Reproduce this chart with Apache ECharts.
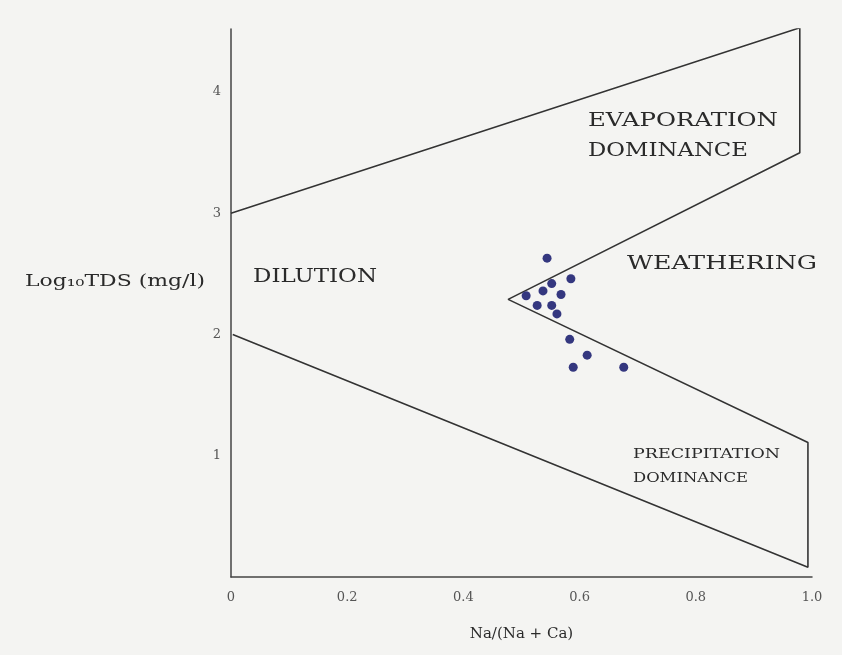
<!DOCTYPE html>
<html><head><meta charset="utf-8">
<script src="https://cdn.jsdelivr.net/npm/echarts@6/dist/echarts.min.js"></script>
<style>html,body{margin:0;padding:0;background:#f4f4f2}#c{width:842px;height:655px}</style>
</head><body><div id="c"></div>
<script>
// Gibbs diagram boundary (Na/(Na+Ca), log10 TDS)
const boundaryX = [0.000, 0.979, 0.979, 0.477, 0.993, 0.993, 0.003];
const boundaryY = [3.00, 4.53, 3.50, 2.29, 1.11, 0.08, 2.00];
// samples
const sampleX = [0.544, 0.585, 0.508, 0.537, 0.552, 0.568, 0.527, 0.552, 0.561, 0.583, 0.613, 0.589, 0.676];
const sampleY = [2.63, 2.46, 2.32, 2.36, 2.42, 2.33, 2.24, 2.24, 2.17, 1.96, 1.83, 1.73, 1.73];
const xTicks = [0, 0.2, 0.4, 0.6, 0.8, 1.0];
const yTicks = [1, 2, 3, 4];
const xName = 'Na/(Na + Ca)';
const yName = 'Log\u2081\u2080TDS (mg/l)';
const regionTexts = ['EVAPORATION', 'DOMINANCE', 'WEATHERING', 'DILUTION', 'PRECIPITATION', 'DOMINANCE', yName];

// layout / style (not data)
const textLayout = [
  {x: 588, y: 121, w: 190, size: 18},
  {x: 588, y: 151, w: 160, size: 18},
  {x: 627, y: 264, w: 190, size: 18},
  {x: 253, y: 277, w: 124, size: 18},
  {x: 633, y: 455, w: 147, size: 12},
  {x: 633, y: 479, w: 115, size: 12},
  {x: 25,  y: 282, w: 180, size: 17}
];
const fam = '"DejaVu Serif", "Liberation Serif", serif';
const mctx = document.createElement('canvas').getContext('2d');
const graphics = regionTexts.map((t, i) => {
  const L = textLayout[i];
  const font = L.size + 'px ' + fam;
  mctx.font = font;
  const mw = mctx.measureText(t).width;
  return {
    type: 'text', x: L.x, y: L.y, scaleX: L.w / mw, silent: true,
    style: {text: t, font: font, fill: '#2a2a2a', align: 'left', verticalAlign: 'middle'}
  };
});

const chart = echarts.init(document.getElementById('c'));
chart.setOption({
  backgroundColor: '#f4f4f2',
  animation: false,
  grid: {left: 231, right: 30, top: 29, bottom: 78},
  xAxis: {
    type: 'value', min: 0, max: 1, interval: 0.2,
    name: xName, nameLocation: 'middle', nameGap: 50,
    nameTextStyle: {fontFamily: fam, fontSize: 15, color: '#2a2a2a'},
    axisLine: {lineStyle: {color: '#444', width: 1.5}},
    axisTick: {show: false}, splitLine: {show: false},
    axisLabel: {margin: 14, fontFamily: fam, fontSize: 13, color: '#555',
      customValues: xTicks,
      formatter: v => v === 0 ? '0' : v.toFixed(1)}
  },
  yAxis: {
    type: 'value', min: 0, max: 4.52,
    axisLine: {show: true, lineStyle: {color: '#444', width: 1.5}},
    axisTick: {show: false}, splitLine: {show: false},
    axisLabel: {margin: 10, fontFamily: fam, fontSize: 13, color: '#555',
      customValues: yTicks}
  },
  graphic: graphics,
  series: [
    {
      type: 'line', data: boundaryX.map((x, i) => [x, boundaryY[i]]),
      symbol: 'none', lineStyle: {color: '#333', width: 1.6}, z: 2
    },
    {
      type: 'scatter', data: sampleX.map((x, i) => [x, sampleY[i]]),
      symbolSize: 9, itemStyle: {color: '#34377f', opacity: 1}, z: 3
    }
  ]
});
</script>
</body></html>
